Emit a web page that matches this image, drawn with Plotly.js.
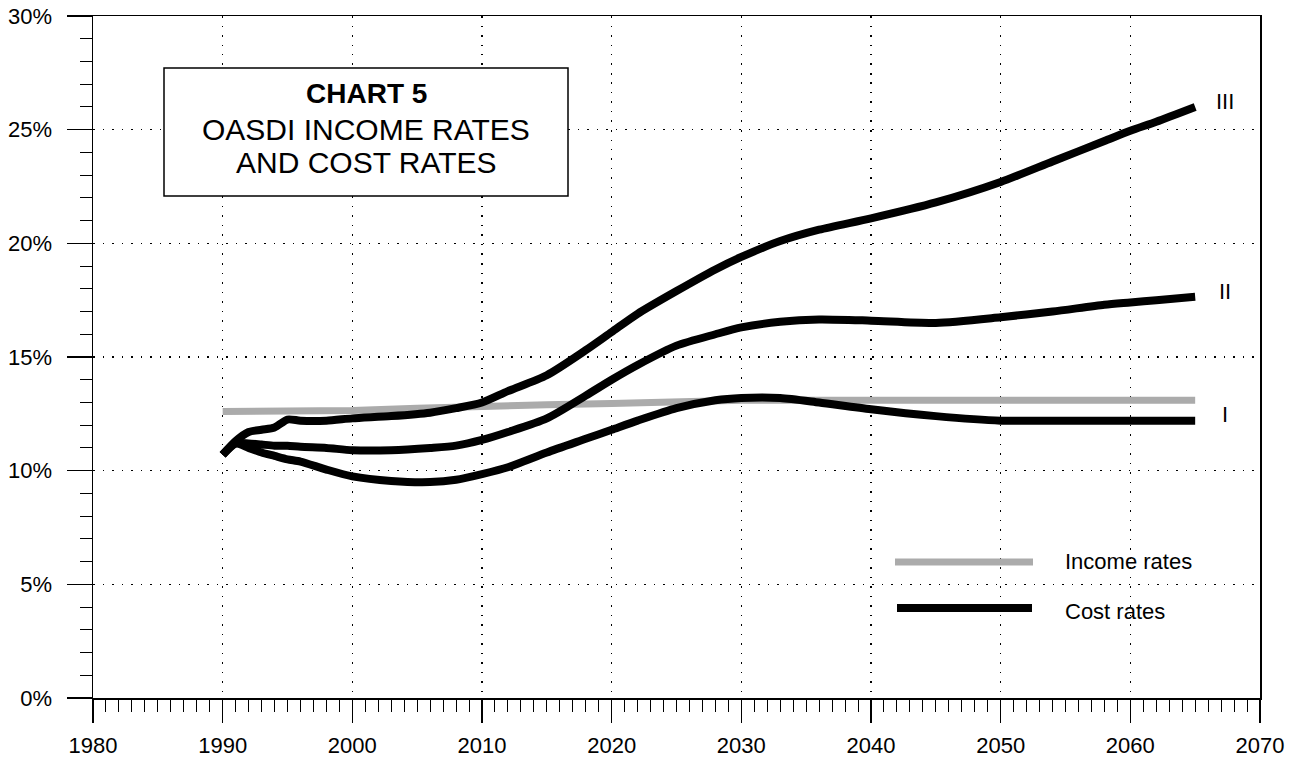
<!DOCTYPE html>
<html>
<head>
<meta charset="utf-8">
<script src="https://cdn.plot.ly/plotly-3.0.1.min.js"></script>
<style>html,body{margin:0;padding:0;background:#fff;}#chart{width:1301px;height:762px;}</style>
</head>
<body>
<div id="chart"></div>
<script>
// ---- data ----
const years = [1990,1991,1992,1993,1994,1995,1996,1998,2000,2003,2006,2008,2010,2012,2015,2018,2020,2022,2025,2028,2030,2033,2036,2040,2045,2050,2054,2058,2060,2062,2065];
const costIII = [10.7,11.3,11.7,11.8,11.9,12.25,12.2,12.2,12.3,12.4,12.55,12.75,13.0,13.5,14.2,15.3,16.1,16.9,17.9,18.85,19.4,20.1,20.6,21.1,21.8,22.7,23.6,24.5,24.95,25.35,26.0];
const costII  = [10.7,11.2,11.2,11.15,11.1,11.1,11.05,11.0,10.9,10.9,11.0,11.1,11.35,11.7,12.3,13.3,14.0,14.65,15.5,16.0,16.3,16.55,16.65,16.6,16.5,16.75,17.0,17.3,17.4,17.5,17.65];
const costI   = [10.7,11.2,11.0,10.8,10.65,10.5,10.4,10.05,9.75,9.55,9.5,9.6,9.85,10.15,10.8,11.4,11.8,12.2,12.75,13.1,13.2,13.2,13.0,12.7,12.4,12.2,12.2,12.2,12.2,12.2,12.2];
const incomeYears = [1990,1995,2000,2005,2010,2015,2020,2025,2030,2040,2050,2065];
const incomeRate  = [12.6,12.6,12.65,12.75,12.85,12.9,12.95,13.0,13.1,13.1,13.1,13.1];
const xTicks = [1980,1990,2000,2010,2020,2030,2040,2050,2060,2070];
const yTicks = [0,5,10,15,20,25,30];
const yTickText = ['0%','5%','10%','15%','20%','25%','30%'];
const seriesLabels = ['III','II','I'];
const titleLines = ['CHART 5','OASDI INCOME RATES','AND COST RATES'];
const legendNames = ['Income rates','Cost rates'];

// ---- layout helpers (pixel -> paper) ----
const W = 1301, H = 762, L = 93, R = 1260, T = 16, B = 698;
const px = x => (x - L) / (R - L);
const py = y => (B - y) / (B - T);

const FONT = 'Liberation Sans, Arial, Helvetica, sans-serif';

const traces = [
  {x: incomeYears, y: incomeRate, mode: 'lines', line: {color: '#ababab', width: 7}, hoverinfo: 'skip'},
  {x: years, y: costIII, mode: 'lines', line: {color: '#000', width: 8, shape: 'spline', smoothing: 0.7}, hoverinfo: 'skip'},
  {x: years, y: costII,  mode: 'lines', line: {color: '#000', width: 8, shape: 'spline', smoothing: 0.7}, hoverinfo: 'skip'},
  {x: years, y: costI,   mode: 'lines', line: {color: '#000', width: 8, shape: 'spline', smoothing: 0.7}, hoverinfo: 'skip'}
];

const ends = [costIII, costII, costI];
const annotations = [];
seriesLabels.forEach((s, i) => {
  annotations.push({x: 2067.3, y: ends[i][ends[i].length - 1] + 0.25, xref: 'x', yref: 'y', text: s,
    showarrow: false, font: {family: FONT, size: 22, color: '#000'}, xanchor: 'center', yanchor: 'middle'});
});
const titleY = [93, 130, 162];
const titleSize = [28, 30, 30];
titleLines.forEach((t, i) => {
  annotations.push({x: px(366), y: py(titleY[i]), xref: 'paper', yref: 'paper',
    text: i === 0 ? '<b>' + t + '</b>' : t, showarrow: false,
    font: {family: FONT, size: titleSize[i], color: '#000'},
    xanchor: 'center', yanchor: 'middle'});
});
annotations.push({x: px(1063), y: py(561), xref: 'paper', yref: 'paper', text: legendNames[0], showarrow: false,
  font: {family: FONT, size: 22, color: '#000'}, xanchor: 'left', yanchor: 'middle'});
annotations.push({x: px(1063), y: py(611), xref: 'paper', yref: 'paper', text: legendNames[1], showarrow: false,
  font: {family: FONT, size: 22, color: '#000'}, xanchor: 'left', yanchor: 'middle'});

const shapes = [
  {type: 'rect', xref: 'paper', yref: 'paper', x0: px(164), x1: px(568), y0: py(196), y1: py(68),
   fillcolor: '#fff', line: {color: '#000', width: 1.5}, layer: 'above'},
  {type: 'line', xref: 'paper', yref: 'paper', x0: px(895), x1: px(1033), y0: py(562), y1: py(562),
   line: {color: '#ababab', width: 7}},
  {type: 'line', xref: 'paper', yref: 'paper', x0: px(897), x1: px(1032), y0: py(608), y1: py(608),
   line: {color: '#000', width: 8}}
];

const axisCommon = {
  showline: true, linecolor: '#000', linewidth: 1.5, mirror: true,
  showgrid: true, gridcolor: '#000', gridwidth: 1.3, griddash: '1.5px,8px',
  zeroline: false, ticks: 'outside', tickcolor: '#000', tickwidth: 1.3,
  tickfont: {family: FONT, size: 22, color: '#000'}, fixedrange: true
};

const layout = {
  width: W, height: H,
  margin: {l: L, r: W - R, t: T, b: H - B, pad: 0},
  paper_bgcolor: '#fff', plot_bgcolor: '#fff',
  showlegend: false,
  xaxis: Object.assign({}, axisCommon, {
    range: [1980, 2070], tickvals: xTicks, ticklen: 23, ticklabelstandoff: 4,
    minor: {dtick: 1, ticks: 'outside', ticklen: 12, tickcolor: '#000', tickwidth: 1, showgrid: false}
  }),
  yaxis: Object.assign({}, axisCommon, {
    range: [0, 30], tickvals: yTicks, ticktext: yTickText, ticklen: 25, ticklabelstandoff: 10,
    minor: {dtick: 1, ticks: 'outside', ticklen: 12, tickcolor: '#000', tickwidth: 1, showgrid: false}
  }),
  annotations: annotations,
  shapes: shapes
};

Plotly.newPlot('chart', traces, layout, {displayModeBar: false, staticPlot: true});
</script>
</body>
</html>
